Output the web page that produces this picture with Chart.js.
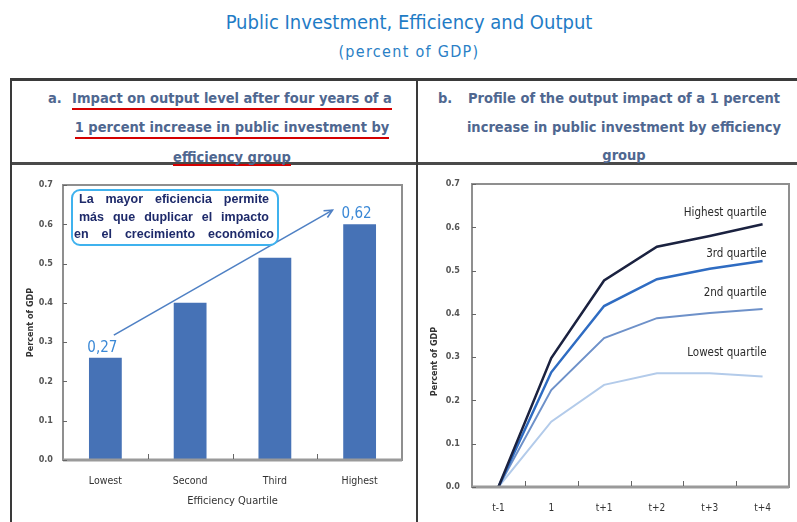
<!DOCTYPE html>
<html><head><meta charset="utf-8">
<script src="https://cdn.jsdelivr.net/npm/chart.js@4"></script>
<style>
html,body{margin:0;padding:0;background:#fff;}
body{width:797px;height:522px;position:relative;overflow:hidden;font-family:"Liberation Sans Narrow","DejaVu Sans Condensed",sans-serif;}
.abs{position:absolute;white-space:nowrap;}
#title{left:0;width:818px;top:10px;text-align:center;color:#1f7cc6;font-size:20px;line-height:24px;}
#sub{left:0;width:818px;top:43px;text-align:center;color:#2a7fc6;font-size:16px;letter-spacing:1.3px;line-height:18px;}
.ln{position:absolute;background:#3a3a3a;}
.hdr{position:absolute;color:#4f6790;font-weight:bold;font-size:14.5px;line-height:20px;white-space:nowrap;}
.ul{display:inline-block;border-bottom:2px solid #d40000;}
canvas{position:absolute;}
</style></head>
<body>
<div id="title" class="abs">Public Investment, Efficiency and Output</div>
<div id="sub" class="abs">(percent of GDP)</div>

<div class="ln" style="left:10px;top:78px;width:787px;height:3px;"></div>
<div class="ln" style="left:10px;top:162px;width:787px;height:3px;background:#4a4a4a;"></div>
<div class="ln" style="left:10px;top:78px;width:2px;height:444px;"></div>
<div class="ln" style="left:416px;top:78px;width:2px;height:444px;"></div>

<div class="hdr" style="left:48px;top:88px;">a.</div>
<div class="hdr" style="left:32px;width:400px;text-align:center;top:88px;"><span class="ul" style="line-height:20px;">Impact on output level after four years of a</span></div>
<div class="hdr" style="left:32px;width:400px;text-align:center;top:117px;"><span class="ul" style="line-height:20px;">1 percent increase in public investment by</span></div>
<div class="hdr" style="left:32px;width:400px;text-align:center;top:147px;"><span class="ul" style="line-height:14px;">efficiency group</span></div>

<div class="hdr" style="left:438px;top:88px;">b.</div>
<div class="hdr" style="left:424px;width:400px;text-align:center;top:88px;">Profile of the output impact of a 1 percent</div>
<div class="hdr" style="left:424px;width:400px;text-align:center;top:117px;">increase in public investment by efficiency</div>
<div class="hdr" style="left:424px;width:400px;text-align:center;top:145px;">group</div>

<canvas id="c1" width="404" height="356" style="left:12px;top:166px;width:404px;height:356px;"></canvas>
<canvas id="c2" width="378" height="356" style="left:419px;top:166px;width:378px;height:356px;"></canvas>

<script>
// ---- Panel a data ----
const categories = ['Lowest', 'Second', 'Third', 'Highest'];
const impactValues = [0.26, 0.40, 0.515, 0.60];
const impactLabels = ['0,27', '', '', '0,62'];
const annotationLines = ['La mayor eficiencia permite', 'más que duplicar el impacto', 'en el crecimiento económico'];
const arrowFrom = [0.1, 0.318];   // [category index, value]
const arrowTo = [2.68, 0.636];

// ---- Panel b data ----
const periods = ['t-1', '1', 't+1', 't+2', 't+3', 't+4'];
const highestQ = [0, 0.298, 0.477, 0.555, 0.580, 0.607];
const thirdQ   = [0, 0.265, 0.418, 0.480, 0.504, 0.522];
const secondQ  = [0, 0.224, 0.344, 0.390, 0.402, 0.411];
const lowestQ  = [0, 0.151, 0.236, 0.263, 0.263, 0.255];
const seriesNames = ['Highest quartile', '3rd quartile', '2nd quartile', 'Lowest quartile'];
const seriesLabelValues = [0.633, 0.538, 0.448, 0.310];

// ---- axis ----
const yMin = 0, yMax = 0.7, yStep = 0.1;

const F = '"Liberation Sans Narrow","DejaVu Sans Condensed",sans-serif';

const framePlugin = {
  id: 'frame',
  afterDatasetsDraw(chart) {
    const a = chart.chartArea, ctx = chart.ctx;
    const xs = chart.scales.x, ys = chart.scales.y;
    ctx.save();
    ctx.strokeStyle = '#8f8f8f';
    ctx.lineWidth = 2;
    ctx.strokeRect(a.left, a.top, a.right - a.left, a.bottom - a.top);
    ctx.strokeStyle = '#9a9a9a';
    ctx.lineWidth = 3;
    ctx.beginPath();
    ctx.moveTo(a.left, a.bottom); ctx.lineTo(a.right, a.bottom);
    ctx.stroke();
    ctx.strokeStyle = '#666';
    ctx.lineWidth = 1;
    ctx.beginPath();
    ys.ticks.forEach((t, i) => {
      const py = Math.round(ys.getPixelForTick(i)) + 0.5;
      ctx.moveTo(a.left, py); ctx.lineTo(a.left + 4, py);
    });
    for (let i = 0; i < xs.ticks.length - 1; i++) {
      const px = Math.round((xs.getPixelForTick(i) + xs.getPixelForTick(i + 1)) / 2) + 0.5;
      ctx.moveTo(px, a.bottom - 1); ctx.lineTo(px, a.bottom - 6);
    }
    ctx.stroke();
    ctx.restore();
  }
};

const panelAPlugin = {
  id: 'panelA',
  afterDraw(chart) {
    const ctx = chart.ctx, a = chart.chartArea;
    const xs = chart.scales.x, ys = chart.scales.y;
    ctx.save();
    ctx.font = '15px ' + F;
    ctx.fillStyle = '#3a88d6';
    ctx.textAlign = 'center';
    ctx.textBaseline = 'middle';
    impactLabels.forEach((lab, i) => {
      if (!lab) return;
      ctx.fillText(lab, xs.getPixelForValue(i) - 3, ys.getPixelForValue(impactValues[i]) - 10);
    });
    const x1 = xs.getPixelForValue(arrowFrom[0]), y1 = ys.getPixelForValue(arrowFrom[1]);
    const x2 = xs.getPixelForValue(arrowTo[0]), y2 = ys.getPixelForValue(arrowTo[1]);
    ctx.strokeStyle = '#4f80c4';
    ctx.lineWidth = 1.6;
    ctx.beginPath(); ctx.moveTo(x1, y1); ctx.lineTo(x2, y2); ctx.stroke();
    const ang = Math.atan2(y2 - y1, x2 - x1);
    ctx.beginPath();
    ctx.moveTo(x2 - 9 * Math.cos(ang - 0.45), y2 - 9 * Math.sin(ang - 0.45));
    ctx.lineTo(x2, y2);
    ctx.lineTo(x2 - 9 * Math.cos(ang + 0.45), y2 - 9 * Math.sin(ang + 0.45));
    ctx.stroke();
    const bx = a.left + 9, by = a.top + 5, bw = 206, bh = 55, r = 8;
    ctx.beginPath();
    ctx.moveTo(bx + r, by);
    ctx.arcTo(bx + bw, by, bx + bw, by + bh, r);
    ctx.arcTo(bx + bw, by + bh, bx, by + bh, r);
    ctx.arcTo(bx, by + bh, bx, by, r);
    ctx.arcTo(bx, by, bx + bw, by, r);
    ctx.closePath();
    ctx.fillStyle = '#fff';
    ctx.fill();
    ctx.strokeStyle = '#3fb2ee';
    ctx.lineWidth = 2;
    ctx.stroke();
    ctx.font = 'bold 12.5px "Liberation Sans",sans-serif';
    ctx.fillStyle = '#1e2a6a';
    ctx.textAlign = 'left';
    const offs = [10, 27.5, 45];
    annotationLines.forEach((line, k) => {
      const words = line.split(' ');
      const widths = words.map(w => ctx.measureText(w).width);
      const total = widths.reduce((s, v) => s + v, 0);
      const x0 = bx + (k === 2 ? 2 : 7), x1b = bx + bw - (k === 2 ? 4 : 9);
      const gap = (x1b - x0 - total) / (words.length - 1);
      let cx = x0;
      words.forEach((w, j) => { ctx.fillText(w, cx, by + offs[k]); cx += widths[j] + gap; });
    });
    ctx.restore();
  }
};

const panelBPlugin = {
  id: 'panelB',
  afterDraw(chart) {
    const ctx = chart.ctx, a = chart.chartArea;
    const xs = chart.scales.x, ys = chart.scales.y;
    ctx.save();
    ctx.font = '11.5px ' + F;
    ctx.fillStyle = '#2b2b2b';
    ctx.textAlign = 'right';
    ctx.textBaseline = 'middle';
    const xr = xs.getPixelForValue(periods.length - 1) + 4;
    seriesNames.forEach((n, i) => ctx.fillText(n, xr, ys.getPixelForValue(seriesLabelValues[i])));
    ctx.translate(16, (a.top + a.bottom) / 2 + 26);
    ctx.rotate(-Math.PI / 2);
    ctx.textAlign = 'center';
    ctx.font = 'bold 9px ' + F;
    ctx.fillStyle = '#333';
    ctx.fillText('Percent of GDP', 0, 0);
    ctx.restore();
  }
};

function yAxis(pad, width, title) {
  return {
    min: yMin, max: yMax,
    ticks: { stepSize: yStep, padding: pad, callback: v => Number(v).toFixed(1),
             font: { size: 9, family: F, weight: 'bold' }, color: '#555' },
    grid: { display: false, drawTicks: false },
    border: { display: false },
    title: title,
    afterFit(s) { s.width = width; }
  };
}

new Chart(document.getElementById('c1'), {
  type: 'bar',
  data: { labels: categories, datasets: [{ data: impactValues, backgroundColor: '#4672b6',
          barPercentage: 0.9, categoryPercentage: 0.43 }] },
  options: {
    responsive: false, animation: false, devicePixelRatio: 1,
    layout: { padding: { top: 19, right: 14, bottom: 0, left: 0 } },
    plugins: { legend: { display: false }, tooltip: { enabled: false } },
    scales: {
      x: { grid: { display: false, drawTicks: false }, border: { display: false },
           ticks: { padding: 15, font: { size: 10.5, family: F }, color: '#333' },
           title: { display: true, text: 'Efficiency Quartile', font: { size: 11, family: F }, color: '#333',
                    padding: { top: 0, bottom: 14 } },
           afterFit(s) { s.height = 62; } },
      y: yAxis(10, 51, { display: true, text: 'Percent of GDP', font: { size: 9, weight: 'bold', family: F },
                         color: '#333', padding: { top: 13, bottom: 0 } })
    }
  },
  plugins: [framePlugin, panelAPlugin]
});

new Chart(document.getElementById('c2'), {
  type: 'line',
  data: { labels: periods, datasets: [
    { data: highestQ, borderColor: '#1b2240', borderWidth: 2.5 },
    { data: thirdQ, borderColor: '#2f6cc2', borderWidth: 2.5 },
    { data: secondQ, borderColor: '#6e91c9', borderWidth: 2 },
    { data: lowestQ, borderColor: '#b3cbea', borderWidth: 2 }
  ] },
  options: {
    responsive: false, animation: false, devicePixelRatio: 1,
    elements: { point: { radius: 0 }, line: { tension: 0 } },
    layout: { padding: { top: 18, right: 8, bottom: 0, left: 0 } },
    plugins: { legend: { display: false }, tooltip: { enabled: false } },
    scales: {
      x: { offset: true, grid: { display: false, drawTicks: false }, border: { display: false },
           ticks: { padding: 15, font: { size: 10, family: F }, color: '#333' },
           afterFit(s) { s.height = 35; } },
      y: yAxis(12, 53, { display: false })
    }
  },
  plugins: [framePlugin, panelBPlugin]
});
</script>
</body></html>
